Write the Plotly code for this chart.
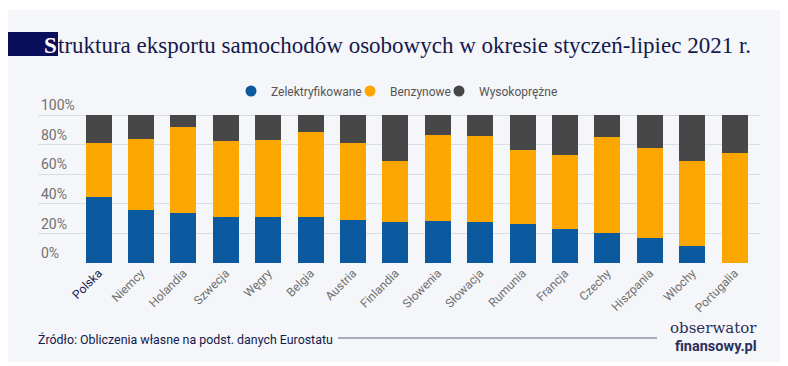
import plotly.graph_objects as go

countries = ["Polska", "Niemcy", "Holandia", "Szwecja", "Węgry", "Belgia", "Austria", "Finlandia",
             "Słowenia", "Słowacja", "Rumunia", "Francja", "Czechy", "Hiszpania", "Włochy", "Portugalia"]
zelektryfikowane = [44.3, 35.5, 33.8, 31.3, 30.8, 30.8, 28.8, 27.9, 28.1, 27.5, 26.1, 22.7, 20.3, 17.1, 11.7, 0.0]
benzynowe = [36.5, 48.5, 58.3, 51.3, 52.5, 57.9, 52.2, 41.2, 58.4, 58.1, 50.0, 50.5, 64.6, 60.8, 57.0, 74.3]
wysokoprezne = [19.2, 16.0, 7.9, 17.4, 16.7, 11.3, 19.0, 30.9, 13.5, 14.4, 23.9, 26.8, 15.1, 22.1, 31.3, 25.7]
series_names = ["Zelektryfikowane", "Benzynowe", "Wysokoprężne"]
y_ticks = [0, 20, 40, 60, 80, 100]
y_tick_labels = ["0%", "20%", "40%", "60%", "80%", "100%"]

colors = ["#0b5aa0", "#fca601", "#474747"]
NAVY = "#141a4c"
GREY = "#707070"

OFF = 8  # page body margin
W, H = 780, 358
Y_TOP = 125  # axis top value so that the 100% label fits inside
# page-pixel geometry of the plot area
PL, PR, PB, PT100 = 38, 760, 263, 115
PT = PB - (PB - PT100) * Y_TOP / 100
L, R, B, T = PL - OFF, PR - OFF, PB - OFF, PT - OFF


def px_x(p):
    return (p - PL) / (PR - PL)


def px_y(p):
    return (PB - p) / (PB - PT)


fig = go.Figure()
for name, vals, col in zip(series_names, [zelektryfikowane, benzynowe, wysokoprezne], colors):
    fig.add_trace(go.Bar(x=list(range(len(countries))), y=vals, name=name, marker_color=col,
                         marker_line_width=0, showlegend=False))
# legend entries with round markers
legend_widths = [74, 44, 80]
for name, col, lw in zip(series_names, colors, legend_widths):
    fig.add_trace(go.Scatter(x=[None], y=[None], mode="markers", name=name, legendwidth=lw,
                             marker=dict(color=col, size=11, symbol="circle")))

ticktext = []
for c in countries:
    if c == "Polska":
        ticktext.append(f"<span style='color:{NAVY}'>{c}</span>")
    else:
        ticktext.append(c)

fig.update_layout(
    width=W, height=H,
    margin=dict(l=L, r=W - R, t=T, b=H - B, pad=0, autoexpand=False),
    paper_bgcolor="white",
    plot_bgcolor="rgba(0,0,0,0)",
    barmode="stack",
    bargap=0.387,
    font=dict(family="Roboto", size=12, color=GREY),
    legend=dict(orientation="h", x=px_x(231), xanchor="left", y=px_y(91), yanchor="middle",
                font=dict(size=12, color="#555555"), itemwidth=30, bgcolor="rgba(0,0,0,0)",
                traceorder="normal"),
    xaxis=dict(range=[-1.43, 15.6], tickmode="array", tickvals=list(range(len(countries))),
               ticktext=ticktext, tickangle=-45, showgrid=False, zeroline=False, showline=False,
               ticks="", tickfont=dict(size=12, color=GREY), automargin=False),
    yaxis=dict(range=[0, Y_TOP], tickmode="array", tickvals=y_ticks, ticktext=y_tick_labels,
               ticklabelposition="inside top", showgrid=True, gridcolor="#d9dce2", gridwidth=1,
               zeroline=False, showline=False, ticks="", tickfont=dict(size=14, color=GREY),
               automargin=False),
    shapes=[
        dict(type="rect", xref="paper", yref="paper", x0=px_x(7), x1=px_x(785), y0=px_y(362), y1=px_y(10),
             fillcolor="#f5f6f9", line_width=0, layer="below"),
        dict(type="rect", xref="paper", yref="paper", x0=px_x(7), x1=px_x(58), y0=px_y(56), y1=px_y(32),
             fillcolor="#0a0f5c", line_width=0, layer="above"),
        dict(type="line", xref="paper", yref="paper", x0=px_x(338), x1=px_x(657), y0=px_y(338), y1=px_y(338),
             line=dict(color="#5c6280", width=1)),
    ],
    annotations=[
        dict(text="<b>S</b>", xref="paper", yref="paper", x=px_x(59), y=px_y(45), xanchor="right",
             yanchor="middle", showarrow=False, font=dict(family="Liberation Serif", size=23, color="white")),
        dict(text="truktura eksportu samochodów osobowych w okresie styczeń-lipiec 2021 r.", xref="paper",
             yref="paper", x=px_x(56), y=px_y(45), xanchor="left", yanchor="middle", showarrow=False,
             font=dict(family="Liberation Serif", size=23, color=NAVY)),
        dict(text="Źródło: Obliczenia własne na podst. danych Eurostatu", xref="paper", yref="paper",
             x=px_x(36), y=px_y(339), xanchor="left", yanchor="middle", showarrow=False,
             font=dict(family="Roboto", size=12.4, color=NAVY)),
        dict(text="obserwator", xref="paper", yref="paper", x=px_x(759), y=px_y(328), xanchor="right",
             yanchor="middle", showarrow=False, font=dict(family="DejaVu Serif", size=15, color="#2a2f5c")),
        dict(text="<b>finansowy.pl</b>", xref="paper", yref="paper", x=px_x(759), y=px_y(346), xanchor="right",
             yanchor="middle", showarrow=False, font=dict(family="Roboto", size=14.5, color="#2a2f5c")),
    ],
)

fig.write_html("out.html")
